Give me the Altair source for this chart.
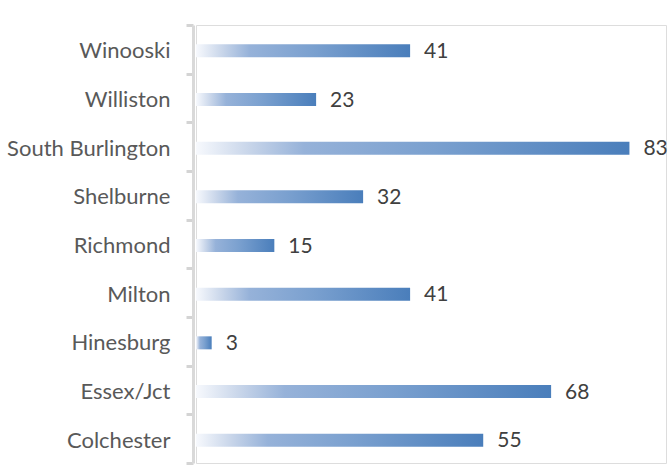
import altair as alt
import pandas as pd

towns = ["Winooski", "Williston", "South Burlington", "Shelburne", "Richmond",
         "Milton", "Hinesburg", "Essex/Jct", "Colchester"]
counts = [41, 23, 83, 32, 15, 41, 3, 68, 55]

df = pd.DataFrame({"town": towns, "count": counts})

grad = alt.Gradient(
    gradient="linear",
    stops=[
        alt.GradientStop(color="#f7f9fd", offset=0),
        alt.GradientStop(color="#c9d6ea", offset=0.12),
        alt.GradientStop(color="#96b2d9", offset=0.25),
        alt.GradientStop(color="#7aa0cf", offset=0.55),
        alt.GradientStop(color="#4a7ebb", offset=1),
    ],
    x1=0, x2=1, y1=0, y2=0,
)

FONT = "Lato"

y = alt.Y(
    "town:N", sort=towns, title=None,
    scale=alt.Scale(paddingInner=0.0, paddingOuter=0.0),
    axis=alt.Axis(
        offset=3,
        domainColor="#d9d9d9", domainWidth=3,
        ticks=True,
        tickColor="#d4d4d4", tickWidth=3, tickSize=7, tickBand="extent",
        labelFont=FONT, labelFontSize=22, labelColor="#595959",
        labelPadding=16, labelLimit=300, labelOffset=1.5,
    ),
)
x = alt.X("count:Q", title=None, scale=alt.Scale(domain=[0, 90], nice=False),
          axis=None)

bars = alt.Chart(df).mark_bar(size=13, color=grad, yOffset=1.5).encode(x=x, y=y)
labels = alt.Chart(df).mark_text(
    align="left", baseline="middle", dx=14, dy=2.5,
    font=FONT, fontSize=21, color="#404040",
).encode(x=x, y=y, text="count:Q")

chart = alt.layer(bars, labels).properties(
    width=470, height=438,
    autosize=alt.AutoSizeParams(type="none"),
    padding={"left": 196, "top": 25, "right": 4, "bottom": 3},
).configure_view(stroke=None).configure(background="white")

chart.save("out.html", embed_options={"renderer": "svg", "actions": False})
